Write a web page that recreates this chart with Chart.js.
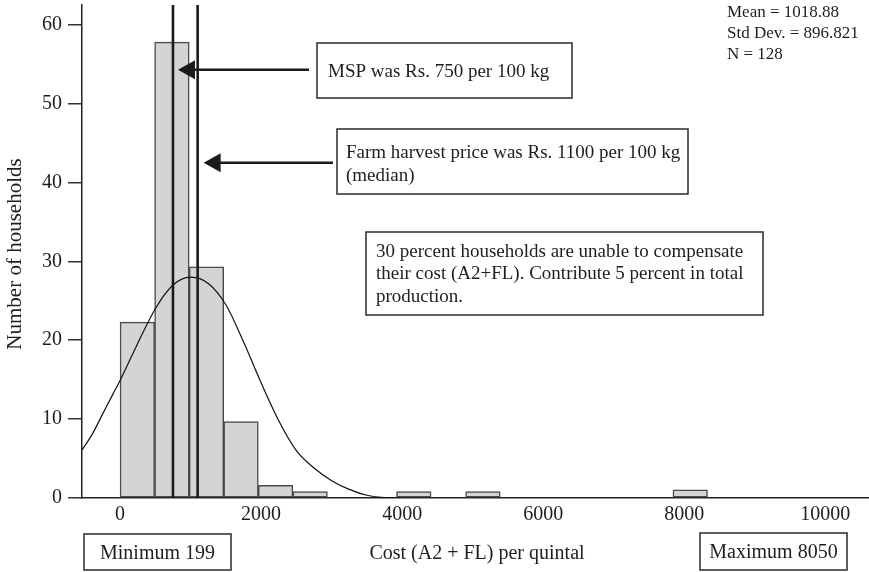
<!DOCTYPE html>
<html>
<head>
<meta charset="utf-8">
<script src="https://cdn.jsdelivr.net/npm/chart.js@4.4.1/dist/chart.umd.min.js"></script>
<style>
  body { margin: 0; background: #fff; }
  canvas { display: block; }
</style>
</head>
<body>
<canvas id="chart-canvas" width="869" height="572"></canvas>
<script>
// histogram bins (bin width ~490), centres and heights
const binCenters = [245, 735, 1225, 1715, 2205, 2695, 4165, 5145, 8085]
const binCounts = [22.3, 57.8, 29.3, 9.7, 1.6, 0.8, 0.8, 0.8, 1.05]

// fitted curve, read point by point
const curveX = [-540, -400, -250, -100, 0, 250, 500, 750, 1000, 1250, 1500, 1750, 2000, 2250, 2500, 2750, 3000, 3250, 3500, 3750, 4000]
const curveY = [6.1, 8.0, 10.6, 13.2, 14.9, 19.6, 24.0, 27.0, 28.0, 27.2, 24.5, 19.8, 14.6, 9.8, 6.0, 3.8, 2.2, 1.1, 0.35, 0.05, 0]

// MSP and farm harvest price lines
const refPrices = [750, 1100]

const xTicks = [0, 2000, 4000, 6000, 8000, 10000]
const yTicks = [0, 10, 20, 30, 40, 50, 60]
const xMin = -540
const xMax = 10620
const yMax = 62.5

const statsLines = ['Mean = 1018.88', 'Std Dev. = 896.821', 'N = 128']
const mspNote = ['MSP was Rs. 750 per 100 kg']
const fhpNote = ['Farm harvest price was Rs. 1100 per 100 kg', '(median)']
const shareNote = ['30 percent households are unable to compensate', 'their cost (A2+FL). Contribute 5 percent in total', 'production.']
const minNote = 'Minimum 199'
const maxNote = 'Maximum 8050'
const xTitle = 'Cost (A2 + FL) per quintal'
const yTitle = 'Number of households'

const serif = "'Liberation Serif', 'Times New Roman', serif"
const ink = '#1e1e1e'

Chart.defaults.font.family = serif
Chart.defaults.color = ink

function drawBox(ctx, x, y, w, h) {
  ctx.save()
  ctx.fillStyle = '#fff'
  ctx.fillRect(x, y, w, h)
  ctx.strokeStyle = '#2a2a2a'
  ctx.lineWidth = 1.5
  ctx.strokeRect(x, y, w, h)
  ctx.restore()
}

function drawLines(ctx, lines, x, baseline, step, size) {
  ctx.save()
  ctx.font = size + 'px ' + serif
  ctx.fillStyle = ink
  ctx.textAlign = 'left'
  ctx.textBaseline = 'alphabetic'
  lines.forEach((t, i) => ctx.fillText(t, x, baseline + i * step))
  ctx.restore()
}

function drawArrow(ctx, fromX, toX, y) {
  ctx.save()
  ctx.strokeStyle = '#1a1a1a'
  ctx.fillStyle = '#1a1a1a'
  ctx.lineWidth = 2.5
  ctx.beginPath()
  ctx.moveTo(fromX, y)
  ctx.lineTo(toX + 14, y)
  ctx.stroke()
  ctx.beginPath()
  ctx.moveTo(toX, y)
  ctx.lineTo(toX + 17, y - 9.5)
  ctx.lineTo(toX + 17, y + 9.5)
  ctx.closePath()
  ctx.fill()
  ctx.restore()
}

const notesPlugin = {
  id: 'notes',
  afterDraw(chart) {
    const ctx = chart.ctx
    const xs = chart.scales.x
    const ys = chart.scales.y

    // arrows pointing at the two price lines
    drawArrow(ctx, 309, xs.getPixelForValue(refPrices[0]) + 5, ys.getPixelForValue(54.3))
    drawArrow(ctx, 333, xs.getPixelForValue(refPrices[1]) + 6, ys.getPixelForValue(42.5))

    drawBox(ctx, 317, 43, 255, 55)
    drawLines(ctx, mspNote, 328, 76.5, 22, 19)

    drawBox(ctx, 337, 129, 351, 65)
    drawLines(ctx, fhpNote, 346, 158, 22.5, 19)

    drawBox(ctx, 366, 232, 397, 83)
    drawLines(ctx, shareNote, 376, 256.5, 22.5, 19)

    drawLines(ctx, statsLines, 727, 17.3, 21, 17)

    drawBox(ctx, 84, 534, 147, 36)
    drawBox(ctx, 700, 533, 147, 37)
    ctx.save()
    ctx.font = '20px ' + serif
    ctx.fillStyle = ink
    ctx.textAlign = 'center'
    ctx.textBaseline = 'alphabetic'
    ctx.fillText(minNote, 157.5, 559)
    ctx.fillText(maxNote, 773.5, 558)
    ctx.fillText(xTitle, 477, 559)
    ctx.translate(15, 254)
    ctx.rotate(-Math.PI / 2)
    ctx.textBaseline = 'middle'
    ctx.font = '21px ' + serif
    ctx.fillText(yTitle, 0, 0)
    ctx.restore()
  }
}

function createChart() {
  const ctx = document.querySelector('#chart-canvas')

  const refDatasets = refPrices.map(p => ({
    type: 'line',
    data: [{ x: p, y: 0 }, { x: p, y: yMax }],
    borderColor: '#1a1a1a',
    borderWidth: 2.6,
    pointRadius: 0,
    fill: false,
    order: 0
  }))

  return new Chart(ctx, {
    type: 'bar',
    data: {
      datasets: [
        ...refDatasets,
        {
          type: 'line',
          data: curveX.map((x, i) => ({ x: x, y: curveY[i] })),
          borderColor: '#111',
          borderWidth: 1.2,
          pointRadius: 0,
          cubicInterpolationMode: 'monotone',
          fill: false,
          order: 1
        },
        {
          type: 'bar',
          data: binCenters.map((x, i) => ({ x: x, y: binCounts[i] })),
          backgroundColor: '#d3d4d6',
          borderColor: '#4a4a4a',
          borderWidth: 1.5,
          borderSkipped: false,
          barPercentage: 1,
          categoryPercentage: 1,
          order: 2
        }
      ]
    },
    options: {
      responsive: false,
      animation: false,
      layout: { padding: { top: 5, right: 0, bottom: 0, left: 0 } },
      plugins: { legend: { display: false }, tooltip: { enabled: false } },
      scales: {
        x: {
          type: 'linear',
          min: xMin,
          max: xMax,
          offset: false,
          afterBuildTicks: s => { s.ticks = xTicks.map(v => ({ value: v })) },
          afterFit: s => { s.height = 74; s.paddingLeft = 0; s.paddingRight = 0 },
          grid: { display: false, offset: false },
          border: { display: true, color: '#222', width: 1.5 },
          ticks: { font: { size: 20 }, color: ink, padding: -3, maxRotation: 0, callback: v => String(v) }
        },
        y: {
          min: 0,
          max: yMax,
          afterBuildTicks: s => { s.ticks = yTicks.map(v => ({ value: v })) },
          afterFit: s => { s.width = 82; s.paddingTop = 0; s.paddingBottom = 0 },
          grid: { drawOnChartArea: false, drawTicks: true, tickLength: 14, color: '#333', lineWidth: 1.5 },
          border: { display: true, color: '#222', width: 1.5 },
          ticks: { font: { size: 20 }, color: ink, padding: 6 }
        }
      }
    },
    plugins: [notesPlugin]
  })
}

createChart()
</script>
</body>
</html>
